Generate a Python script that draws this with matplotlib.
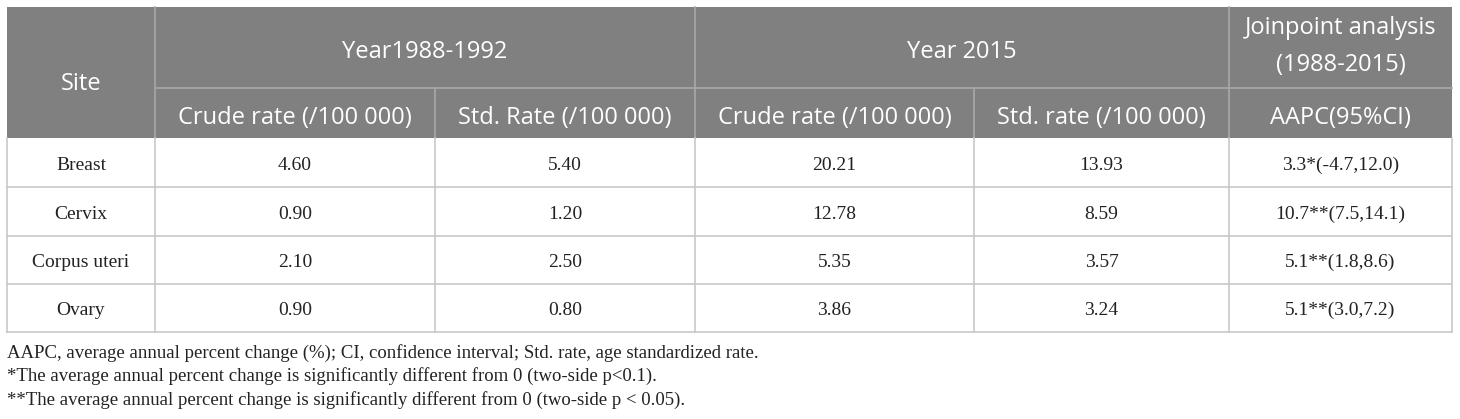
import matplotlib
matplotlib.use("Agg")
import matplotlib.pyplot as plt
from matplotlib.patches import Rectangle

# table content
sites = ["Breast", "Cervix", "Corpus uteri", "Ovary"]
crude_8892 = ["4.60", "0.90", "2.10", "0.90"]
std_8892 = ["5.40", "1.20", "2.50", "0.80"]
crude_2015 = ["20.21", "12.78", "5.35", "3.86"]
std_2015 = ["13.93", "8.59", "3.57", "3.24"]
aapc = ["3.3*(-4.7,12.0)", "10.7**(7.5,14.1)", "5.1**(1.8,8.6)", "5.1**(3.0,7.2)"]

group_headers = ["Year1988-1992", "Year 2015"]
joinpoint_header = ["Joinpoint analysis", "(1988-2015)"]
sub_headers = ["Crude rate (/100 000)", "Std. Rate (/100 000)",
               "Crude rate (/100 000)", "Std. rate (/100 000)", "AAPC(95%CI)"]
footnotes = [
    "AAPC, average annual percent change (%); CI, confidence interval; Std. rate, age standardized rate.",
    "*The average annual percent change is significantly different from 0 (two-side p<0.1).",
    "**The average annual percent change is significantly different from 0 (two-side p < 0.05).",
]

# layout in pixels
col_x = [7, 155, 435, 695, 974, 1229, 1452]
row_y = [7, 88, 138, 187, 236, 284, 332]
header_bg = "#808080"
grid_c = "#c8c8c8"
head_font = "Open Sans"
body_font = "Liberation Serif"

fig = plt.figure(figsize=(14.6, 4.19), dpi=100)
ax = fig.add_axes([0, 0, 1, 1])
ax.set_xlim(0, 1460)
ax.set_ylim(419, 0)
ax.axis("off")

# header background
ax.add_patch(Rectangle((col_x[0], row_y[0]), col_x[-1] - col_x[0], row_y[2] - row_y[0],
                       facecolor=header_bg, edgecolor="none"))

hs = dict(color="white", fontsize=17, family=head_font, ha="center", va="center")
ax.text((col_x[0] + col_x[1]) / 2, 84, "Site", **hs)
ax.text((col_x[1] + col_x[3]) / 2, 52, group_headers[0], **hs)
ax.text((col_x[3] + col_x[5]) / 2, 52, group_headers[1], **hs)
ax.text((col_x[5] + col_x[6]) / 2, 28, joinpoint_header[0], **hs)
ax.text((col_x[5] + col_x[6]) / 2, 65, joinpoint_header[1], **hs)
for i, h in enumerate(sub_headers):
    ax.text((col_x[i + 1] + col_x[i + 2]) / 2, 118, h, **hs)

# header grid lines
lw = 1.2
ax.plot([col_x[1], col_x[-1]], [row_y[1], row_y[1]], color="#a8a8a8", lw=lw)
for x in [col_x[1], col_x[3], col_x[5]]:
    ax.plot([x, x], [row_y[0], row_y[2]], color="#a8a8a8", lw=lw)
for x in [col_x[2], col_x[4]]:
    ax.plot([x, x], [row_y[1], row_y[2]], color="#a8a8a8", lw=lw)

# body
columns = [sites, crude_8892, std_8892, crude_2015, std_2015, aapc]
bs = dict(color="#222222", fontsize=14, family=body_font, ha="center", va="center")
for r in range(len(sites)):
    yc = (row_y[r + 2] + row_y[r + 3]) / 2 + 2.5
    for c, col in enumerate(columns):
        ax.text((col_x[c] + col_x[c + 1]) / 2, yc, col[r], **bs)

for y in row_y[3:]:
    ax.plot([col_x[0], col_x[-1]], [y, y], color=grid_c, lw=lw)
for x in col_x:
    ax.plot([x, x], [row_y[2], row_y[-1]], color=grid_c, lw=lw)

# footnotes
for i, t in enumerate(footnotes):
    ax.text(col_x[0], 353 + i * 23.5, t, color="#222222", fontsize=13.5,
            family=body_font, ha="left", va="center")

fig.savefig("out.png", dpi=100)
